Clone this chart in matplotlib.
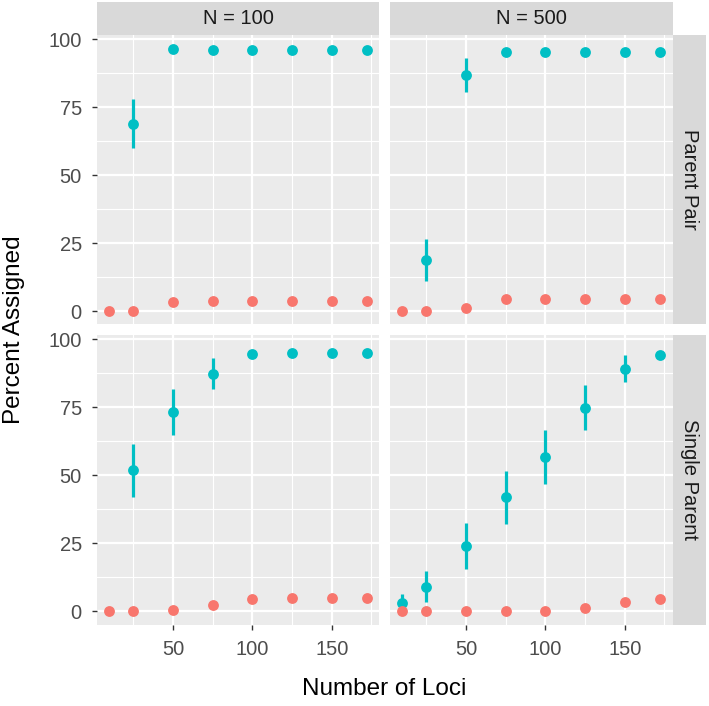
import numpy as np
import matplotlib
matplotlib.use("Agg")
import matplotlib.pyplot as plt
from matplotlib.ticker import FixedLocator

# ---------------- data ----------------
loci = [10, 25, 50, 75, 100, 125, 150, 172]
col_labels = ["N = 100", "N = 500"]
row_labels = ["Parent Pair", "Single Parent"]
nan = np.nan

# Parent Pair, N = 100
pp100_red = [0, 0, 3.3, 3.8, 3.9, 3.9, 3.9, 3.9]
pp100_cyan = [nan, 68.9, 96.4, 96.1, 96.1, 96.1, 96.1, 96.1]
pp100_cyan_lo = [nan, 60.1, nan, nan, nan, nan, nan, nan]
pp100_cyan_hi = [nan, 78.0, nan, nan, nan, nan, nan, nan]

# Parent Pair, N = 500
pp500_red = [0, 0, 1.0, 4.5, 4.4, 4.5, 4.5, 4.4]
pp500_cyan = [nan, 19.0, 86.9, 95.2, 95.2, 95.2, 95.4, 95.4]
pp500_cyan_lo = [nan, 11.1, 80.5, nan, nan, nan, nan, nan]
pp500_cyan_hi = [nan, 26.5, 93.2, nan, nan, nan, nan, nan]

# Single Parent, N = 100
sp100_red = [0, 0, 0.5, 2.4, 4.4, 4.8, 4.8, 4.8]
sp100_cyan = [nan, 51.8, 73.3, 87.3, 94.5, 95.1, 95.1, 95.1]
sp100_cyan_lo = [nan, 42.0, 64.7, 81.6, nan, nan, nan, nan]
sp100_cyan_hi = [nan, 61.6, 81.8, 93.1, nan, nan, nan, nan]

# Single Parent, N = 500
sp500_red = [0, 0, 0, 0, 0, 1.1, 3.4, 4.5]
sp500_cyan = [3.1, 8.9, 23.9, 41.9, 56.7, 74.7, 89.2, 94.1]
sp500_cyan_lo = [0.0, 3.3, 15.5, 32.2, 46.9, 66.5, 84.2, nan]
sp500_cyan_hi = [6.2, 14.6, 32.3, 51.5, 66.5, 83.1, 94.1, nan]

panels = {
    (0, 0): (pp100_red, pp100_cyan, pp100_cyan_lo, pp100_cyan_hi),
    (0, 1): (pp500_red, pp500_cyan, pp500_cyan_lo, pp500_cyan_hi),
    (1, 0): (sp100_red, sp100_cyan, sp100_cyan_lo, sp100_cyan_hi),
    (1, 1): (sp500_red, sp500_cyan, sp500_cyan_lo, sp500_cyan_hi),
}

x_major = [50, 100, 150]
x_minor = [25, 75, 125, 175]
y_major = [0, 25, 50, 75, 100]
y_minor = [12.5, 37.5, 62.5, 87.5]

# ---------------- style ----------------
plt.rcParams['font.family'] = ['Liberation Sans', 'DejaVu Sans']
RED = '#F8766D'
CYAN = '#00BFC4'
PANEL_BG = '#EBEBEB'
STRIP_BG = '#D9D9D9'

W, H = 709, 706
fig = plt.figure(figsize=(W / 100, H / 100), dpi=100)


def fx(px):
    return px / W


def fy(py):
    return 1 - py / H


col_x = [(96.5, 379.5), (389.5, 672.5)]
row_y = [(35.0, 324.5), (335.0, 624.5)]

xmin, xmax = min(loci), max(loci)
xr = xmax - xmin
xlim = (xmin - 0.05 * xr, xmax + 0.05 * xr)
ylim = (-4.9, 101.6)

for (r, c), (red, cyan, lo, hi) in panels.items():
    x0, x1 = col_x[c]
    y0, y1 = row_y[r]
    ax = fig.add_axes([fx(x0), fy(y1), fx(x1) - fx(x0), fy(y0) - fy(y1)])
    ax.set_facecolor(PANEL_BG)
    ax.set_xlim(*xlim)
    ax.set_ylim(*ylim)
    for s in ax.spines.values():
        s.set_visible(False)
    ax.xaxis.set_major_locator(FixedLocator(x_major))
    ax.xaxis.set_minor_locator(FixedLocator(x_minor))
    ax.yaxis.set_major_locator(FixedLocator(y_major))
    ax.yaxis.set_minor_locator(FixedLocator(y_minor))
    ax.grid(which='major', color='white', linewidth=1.6)
    ax.grid(which='minor', color='white', linewidth=0.8)
    ax.set_axisbelow(True)
    ax.tick_params(which='minor', length=0)
    ax.tick_params(which='major', length=3.6, width=1.0, color='#333333',
                   labelcolor='#4D4D4D', labelsize=14.5)
    ax.tick_params(axis='y', pad=7)
    ax.tick_params(axis='x', pad=7.5)
    if r == 0:
        ax.tick_params(axis='x', which='major', length=0, labelbottom=False)
    if c == 1:
        ax.tick_params(axis='y', which='major', length=0, labelleft=False)

    xa = np.array(loci, dtype=float)
    cy = np.array(cyan, dtype=float)
    lo_a = np.array(lo, dtype=float)
    hi_a = np.array(hi, dtype=float)
    m = ~np.isnan(lo_a)
    ax.vlines(xa[m], lo_a[m], hi_a[m], color=CYAN, linewidth=2.3, zorder=3)
    mc = ~np.isnan(cy)
    ax.plot(xa[mc], cy[mc], 'o', color=CYAN, markersize=7.8, markeredgewidth=0,
            zorder=4, clip_on=False)
    ax.plot(xa, red, 'o', color=RED, markersize=7.8, markeredgewidth=0,
            zorder=5, clip_on=False)

    # top strips
    if r == 0:
        sax = fig.add_axes([fx(x0), fy(35.0), fx(x1) - fx(x0), fy(2.0) - fy(35.0)])
        sax.set_facecolor(STRIP_BG)
        sax.set_xticks([]); sax.set_yticks([])
        for s in sax.spines.values():
            s.set_visible(False)
        sax.text(0.5, 0.5, col_labels[c], ha='center', va='center',
                 fontsize=14.5, color='#1A1A1A', transform=sax.transAxes)
    # right strips
    if c == 1:
        sax = fig.add_axes([fx(672.5), fy(y1), fx(705.5) - fx(672.5), fy(y0) - fy(y1)])
        sax.set_facecolor(STRIP_BG)
        sax.set_xticks([]); sax.set_yticks([])
        for s in sax.spines.values():
            s.set_visible(False)
        sax.text(0.5, 0.5, row_labels[r], ha='center', va='center', rotation=-90,
                 fontsize=14.5, color='#1A1A1A', transform=sax.transAxes)

fig.text(fx(384.5), fy(689), 'Number of Loci', ha='center', va='center',
         fontsize=17.5, color='black')
fig.text(fx(14), fy(330), 'Percent Assigned', ha='center', va='center',
         rotation=90, fontsize=17.5, color='black')

fig.savefig('out.png', dpi=100, facecolor='white')
